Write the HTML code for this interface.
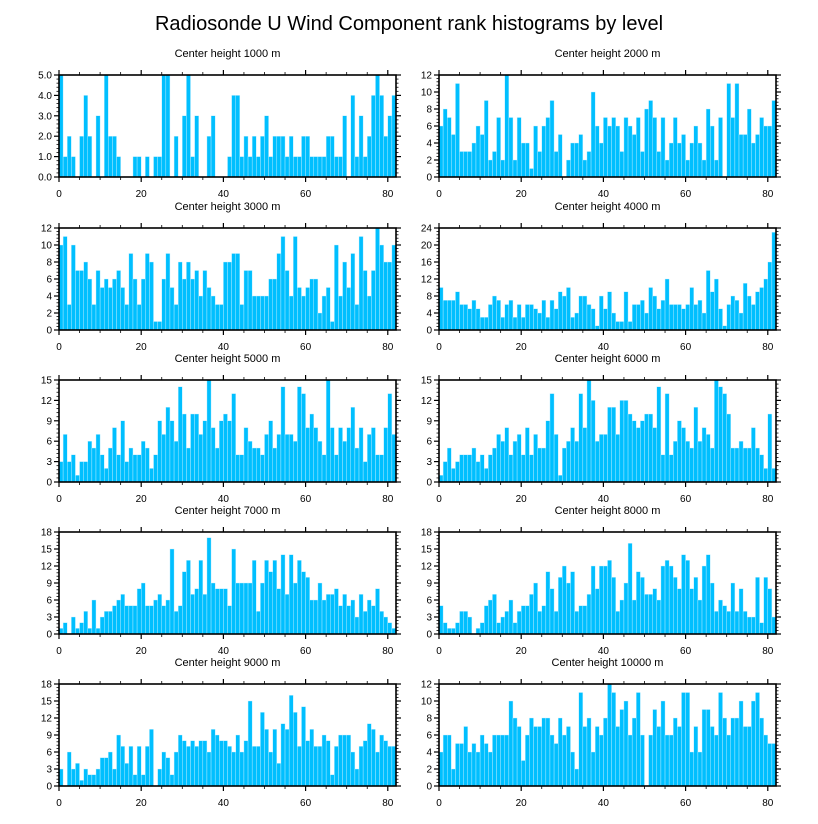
<!DOCTYPE html>
<html><head><meta charset="utf-8">
<style>
html,body{margin:0;padding:0;background:#fff;}
svg{display:block;font-family:"Liberation Sans",sans-serif;}
</style></head>
<body>
<svg id="chart" width="818" height="824" viewBox="0 0 818 824">
<text x="409" y="30" text-anchor="middle" font-size="20" fill="#000">Radiosonde U Wind Component rank histograms by level</text>
</svg>
<script>
const levelTitles = ["Center height 1000 m","Center height 2000 m","Center height 3000 m","Center height 4000 m","Center height 5000 m","Center height 6000 m","Center height 7000 m","Center height 8000 m","Center height 9000 m","Center height 10000 m"];
const v1000 = [5,1,2,1,0,2,4,2,0,3,0,5,2,2,1,0,0,0,1,1,0,1,0,1,1,5,5,0,2,0,3,5,1,3,0,0,2,3,0,0,0,1,4,4,1,2,1,2,1,2,3,1,2,2,2,1,2,1,1,2,2,1,1,1,1,2,2,1,1,3,0,4,1,3,1,2,4,5,4,2,3,4];
const v2000 = [6,8,7,5,11,3,3,3,4,6,5,9,2,3,7,2,12,7,2,7,4,4,1,6,3,6,7,9,3,5,0,2,4,4,5,2,3,10,6,4,7,6,7,6,3,7,6,5,7,3,8,9,7,3,7,2,4,7,4,5,2,4,6,4,2,8,6,2,7,0,11,7,11,5,5,8,4,5,7,6,6,9];
const v3000 = [10,11,3,10,7,7,8,6,3,7,5,6,5,6,7,5,3,9,6,3,6,9,8,1,1,6,9,5,3,8,6,8,6,7,4,7,5,4,3,3,8,8,9,9,3,7,7,4,4,4,4,6,6,9,11,7,4,11,5,4,5,6,6,2,4,5,1,10,4,8,5,9,3,11,7,4,7,12,10,8,8,10];
const v4000 = [10,7,7,7,9,6,6,5,7,5,3,3,6,8,7,3,6,7,3,6,3,6,6,5,4,7,3,7,5,9,8,10,3,4,8,8,6,5,1,8,5,9,4,2,2,9,2,6,6,7,4,10,8,5,7,12,6,6,6,5,6,10,6,7,4,14,9,12,5,1,6,8,7,4,11,8,6,9,10,12,16,23];
const v5000 = [3,7,3,4,1,3,3,6,5,7,4,2,5,8,4,9,3,5,4,4,6,5,2,4,9,7,11,9,6,14,10,5,10,10,7,9,15,8,5,9,10,9,13,4,4,8,6,5,5,4,7,9,5,7,14,7,7,6,14,13,8,10,8,6,4,15,8,4,8,6,8,11,5,8,3,7,8,4,4,8,13,7];
const v6000 = [1,3,5,2,3,4,4,4,5,3,4,2,4,5,7,6,8,4,6,7,4,8,4,7,5,5,9,13,7,1,5,6,8,6,13,8,15,12,6,7,7,11,11,7,12,12,10,9,8,9,10,10,8,14,4,13,4,6,9,8,6,5,11,6,8,7,5,15,14,13,10,5,5,6,5,5,8,5,4,2,10,2];
const v7000 = [1,2,0,3,1,2,4,1,6,1,3,4,4,5,6,7,5,5,5,8,9,5,5,6,7,5,6,15,4,5,11,13,7,8,13,7,17,9,8,8,8,5,15,9,9,9,9,13,4,9,13,11,13,8,14,7,14,9,13,11,10,6,6,9,6,7,7,8,5,7,5,6,3,7,4,6,5,8,4,3,2,1];
const v8000 = [5,2,1,1,2,4,4,3,0,1,2,5,6,7,2,3,4,6,2,4,5,5,7,9,4,5,11,8,4,10,12,9,11,4,5,5,7,12,8,12,12,13,10,4,6,9,16,6,11,10,7,7,8,6,12,13,12,10,8,14,13,8,10,6,12,14,9,4,6,5,4,9,4,8,4,3,3,10,2,10,8,3];
const v9000 = [3,0,6,3,4,1,3,2,2,3,5,5,6,3,9,7,4,7,2,7,2,7,10,0,3,6,5,2,6,9,8,7,8,7,8,8,6,10,9,8,8,7,6,9,6,8,15,7,7,13,10,6,10,4,11,10,16,13,7,14,8,10,7,7,9,8,2,7,9,9,9,6,3,7,8,11,10,6,9,8,7,7];
const v10000 = [4,6,6,2,5,5,7,4,5,4,6,5,4,6,6,6,6,10,8,7,3,6,8,7,7,8,8,6,5,8,6,7,4,2,11,7,8,4,7,6,8,12,11,7,9,10,6,8,11,6,0,6,9,7,10,6,6,8,7,11,11,4,7,4,9,9,7,6,11,8,6,8,8,10,7,7,10,11,8,6,5,5];
const yMaxes = [5,12,12,24,15,15,18,18,18,12];
const ySteps = [1,2,2,4,3,3,3,3,3,2];
const xTicks = [0,20,40,60,80];
const allSeries = [v1000,v2000,v3000,v4000,v5000,v6000,v7000,v8000,v9000,v10000];

const NS = "http://www.w3.org/2000/svg";
const svg = document.getElementById('chart');
function mk(tag, attrs, parent){
  const e = document.createElementNS(NS, tag);
  for (const k in attrs) e.setAttribute(k, attrs[k]);
  (parent||svg).appendChild(e);
  return e;
}
const X_MIN = 0, X_MAX = 82;
const panelW = 337, panelH = 102;
const lefts = [59, 439];
const tops = [75, 228, 380, 532, 684];

allSeries.forEach((vals, p) => {
  const col = p % 2, row = Math.floor(p / 2);
  const L = lefts[col], T = tops[row];
  const yMax = yMaxes[p], step = ySteps[p];
  const xs = v => L + (v - X_MIN) / (X_MAX - X_MIN) * panelW;
  const ys = v => T + panelH - v / yMax * panelH;
  const g = mk('g', {});
  
  
  const t = mk('text', {x: L + panelW/2, y: T - 18, 'text-anchor':'middle', 'font-size':'11', fill:'#000'}, g);
  t.textContent = levelTitles[p];
  
  
  vals.forEach((v, i) => {
    if (i >= X_MAX) return;
    const vv = Math.min(v, yMax);
    if (vv <= 0) return;
    const r = mk('rect', {x: xs(i), y: ys(vv), width: xs(i+1) - xs(i), height: ys(0) - ys(vv), fill:'#00bfff', stroke:'#c8f0ff', 'stroke-width':'0.4'}, g);
    
    
  });
  const fr = mk('rect', {x: L, y: T, width: panelW, height: panelH, fill:'none', stroke:'#000', 'stroke-width':'1.6'}, g);
  
  
  const minorY = step / 5;
  for (let v = 0; v <= yMax + 1e-9; v += minorY) {
    const isMajor = Math.abs(v / step - Math.round(v / step)) < 1e-6;
    const len = isMajor ? 5 : 2.5;
    const y = ys(v);
    mk('line', {x1: L - len, x2: L, y1: y, y2: y, stroke:'#000', 'stroke-width': isMajor ? 1.2 : 0.8}, g);
    mk('line', {x1: L + panelW, x2: L + panelW + len, y1: y, y2: y, stroke:'#000', 'stroke-width': isMajor ? 1.2 : 0.8}, g);
    if (isMajor) {
      const lab = mk('text', {x: L - 7, y: y + 3.5, 'text-anchor':'end', 'font-size':'10', fill:'#000'}, g);
      lab.textContent = p === 0 ? v.toFixed(1) : String(Math.round(v));
      
      
    }
  }
  for (let v = 0; v <= X_MAX; v += 5) {
    const isMajor = v % 20 === 0;
    const len = isMajor ? 5 : 3;
    const x = xs(v);
    mk('line', {x1: x, x2: x, y1: T + panelH, y2: T + panelH + len, stroke:'#000', 'stroke-width': isMajor ? 1.2 : 0.8}, g);
    mk('line', {x1: x, x2: x, y1: T - len, y2: T, stroke:'#000', 'stroke-width': isMajor ? 1.2 : 0.8}, g);
  }
  xTicks.forEach(v => {
    const lab = mk('text', {x: xs(v), y: T + panelH + 20, 'text-anchor':'middle', 'font-size':'10', fill:'#000'}, g);
    lab.textContent = String(v);
    
    
  });
});
</script>
</body></html>
